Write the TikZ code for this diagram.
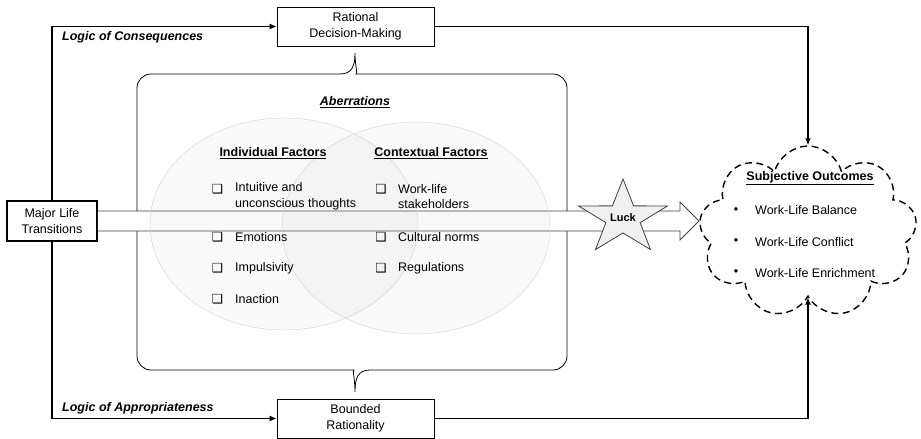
\documentclass[tikz,border=0pt]{standalone}
\usepackage{fontspec}
\setmainfont{Liberation Sans}
\newfontfamily\dingfont{DejaVu Sans}
\usepackage{tikz}
\usetikzlibrary{arrows.meta,shapes.geometric,shapes.symbols}
\tikzset{>={Latex[length=7pt,width=6pt]}}
\tikzset{
  box/.style={draw,line width=0.8pt,minimum width=157pt,minimum height=39pt,align=center,inner sep=0pt},
  flow/.style={->,line width=1.3pt},
  item/.style={anchor=west,align=left,inner sep=0pt},
  tick/.style={inner sep=0pt,font=\dingfont\fontsize{12.5}{14}\selectfont},
  factor/.style={ellipse,draw=gray!35,fill=gray!60,fill opacity=0.08,minimum width=268pt,minimum height=212pt},
  heading/.style={inner sep=0pt,font=\bfseries\fontsize{12.5}{15.5}\selectfont},
  logic/.style={anchor=west,inner sep=0pt,font=\bfseries\itshape\fontsize{12.5}{15.5}\selectfont}
}

\begin{document}
\begin{tikzpicture}[x=1pt,y=-1pt,font=\fontsize{12.5}{15.5}\selectfont]
       \useasboundingbox (0,0) rectangle (921,439);
       % boxes
       \node[box] (rational) at (355.5,26.5) {Rational\\Decision-Making};
       \node[box] (bounded) at (355.5,418.5) {Bounded\\Rationality};
       \node[box,line width=1.5pt,minimum width=90pt,minimum height=40pt] (mlt) at (52,221) {Major Life\\Transitions};
       \node[cloud,cloud puffs=9,cloud puff arc=150,draw,line width=1.4pt,dash pattern=on 7pt off 4.5pt,minimum width=218pt,minimum height=172pt] (outcome) at (808,232) {};
       % logic paths
       \draw[flow] (mlt.north) |- (rational.west);
       \draw[flow] (rational.east) -| (outcome.north);
       \draw[flow] (mlt.south) |- (bounded.west);
       \draw[flow] (bounded.east) -| (outcome.south);
       \node[logic] (conseq) at (62,37) {Logic of Consequences};
       \node[logic] (approp) at (62,408) {Logic of Appropriateness};
       % aberrations bracket
       \draw[line width=0.8pt] (355,53) .. controls (355,66) and (352,74) .. (340,74)
          [rounded corners=14pt] -- (137,74) -- (137,370) -- (340,370)
          [sharp corners] .. controls (352,370) and (355,378) .. (355,392)
          .. controls (355,378) and (358,370) .. (370,370)
          [rounded corners=14pt] -- (567,370) -- (567,74) -- (370,74)
          [sharp corners] .. controls (358,74) and (355,66) .. (355,53);
       \node[heading,font=\bfseries\itshape\fontsize{12.5}{15.5}\selectfont] (aberr) at (355,102) {\underline{Aberrations}};
       % big arrow
       \coordinate (tip) at (699,221);
       \draw[line width=0.8pt,draw=black!75,fill=white] ([yshift=10pt]mlt.east) -- ([xshift=-19pt,yshift=10pt]tip)
          -- ([xshift=-19pt,yshift=19pt]tip) -- (tip) -- ([xshift=-19pt,yshift=-19pt]tip)
          -- ([xshift=-19pt,yshift=-10pt]tip) -- ([yshift=-10pt]mlt.east);
       % factors
       \node[factor] (indiv) at (284,224) {};
       \node[factor] (context) at (416,228) {};
       \node[heading] (indivh) at (273,153) {\underline{Individual Factors}};
       \node[heading] (contexth) at (431,153) {\underline{Contextual Factors}};
       \foreach \y/\txt [count=\i] in {196.5/{Intuitive and\\unconscious thoughts},237/Emotions,268/Impulsivity,299/Inaction}
          \node[item] (ind\i) at (235,\y) {\txt};
       \foreach \y [count=\i] in {189,237,268,299}
          \node[tick] (indbox\i) at (217.5,\y) {❑};
       \foreach \y/\txt [count=\i] in {196.5/{Work-life\\stakeholders},237/Cultural norms,268/Regulations}
          \node[item] (ctx\i) at (398,\y) {\txt};
       \foreach \y [count=\i] in {189,237,268}
          \node[tick] (ctxbox\i) at (381,\y) {❑};
       % luck
       \coordinate (luckc) at (623,218);
       \begin{scope}[shift={(luckc)},xscale=1.2,yscale=-1]
         \draw[line width=0.8pt,draw=black!75,fill=gray!12] (90:39) -- (126:15) -- (162:39) -- (198:15) -- (234:39)
            -- (270:15) -- (306:39) -- (342:15) -- (18:39) -- (54:15) -- cycle;
       \end{scope}
       \node[inner sep=0pt,font=\bfseries\fontsize{11}{12}\selectfont] (luck) at (luckc) {Luck};
       % outcomes
       \node[heading] (outh) at (810,178) {\underline{Subjective Outcomes}};
       \foreach \y/\txt [count=\i] in {210.5/Work-Life Balance,242/Work-Life Conflict,273/Work-Life Enrichment}{
          \node[inner sep=0pt] (dot\i) at (736,\y) {•};
          \node[item] (out\i) at (755,\y) {\txt};
       }
      \end{tikzpicture}
\end{document}
